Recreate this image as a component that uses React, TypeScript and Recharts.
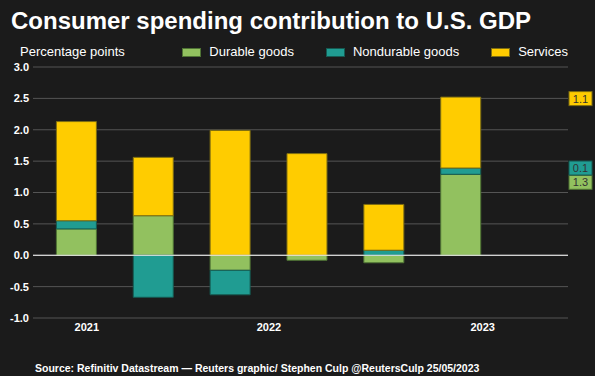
import { BarChart, Bar, XAxis, YAxis, CartesianGrid, ReferenceLine, LabelList } from "recharts"

const quarters = ["Q4 2021", "Q1 2022", "Q2 2022", "Q3 2022", "Q4 2022", "Q1 2023"]
const durableGoods = [0.42, 0.63, -0.24, -0.08, -0.12, 1.29]
const nondurableGoods = [0.13, -0.67, -0.39, 0.0, 0.08, 0.1]
const services = [1.58, 0.93, 1.99, 1.62, 0.73, 1.13]

// year labels sit on the quarter axis, not on the bars
const yearTicks = [0.13, 2.5, 5.28]
const yearLabels = ["2021", "2022", "2023"]
const yTicks = [-1, -0.5, 0, 0.5, 1, 1.5, 2, 2.5, 3]

const WIDTH = 595
const HEIGHT = 376
const MARGIN = { top: 67, right: 27, bottom: 28, left: 0 }
const PLOT_RIGHT = WIDTH - MARGIN.right

const BG = "#1b1b1b"
const FONT = "'Liberation Sans', Arial, sans-serif"

const series = [
  { key: "durable", name: "Durable goods", values: durableGoods, fill: "#92c15f", stroke: "#4f7334", nudge: 8 },
  { key: "nondurable", name: "Nondurable goods", values: nondurableGoods, fill: "#209c92", stroke: "#155a52", nudge: 0 },
  { key: "services", name: "Services", values: services, fill: "#ffcc00", stroke: "#7d6d12", nudge: 1.5 },
]

const data = quarters.map((q, i) => ({
  x: i,
  quarter: q,
  durable: durableGoods[i],
  nondurable: nondurableGoods[i],
  services: services[i],
}))

// boxed value of the latest quarter, pinned to the right of the plot
const endLabel = (values: number[], fill: string, stroke: string, nudge: number) => (props: any) => {
  const { y, value } = props
  if (Number(value) !== values[values.length - 1]) return null
  const cy = Number(y) + nudge
  return (
    <g>
      <rect x={PLOT_RIGHT + 1} y={cy - 7} width={23} height={14} fill={fill} stroke={stroke} />
      <text
        x={PLOT_RIGHT + 12.5}
        y={cy}
        dy="0.36em"
        textAnchor="middle"
        fontSize={11}
        fill="#333"
        fontFamily={FONT}
      >
        {Number(value).toFixed(1)}
      </text>
    </g>
  )
}

export default function App() {
  return (
    <div
      style={{
        position: "fixed",
        left: 0,
        top: 0,
        width: WIDTH,
        height: HEIGHT,
        background: BG,
        fontFamily: FONT,
        color: "#fff",
        overflow: "hidden",
      }}
    >
      <div style={{ position: "absolute", left: 11, top: 6, fontSize: 24, fontWeight: "bold", lineHeight: "30px" }}>
        Consumer spending contribution to U.S. GDP
      </div>
      <div style={{ position: "absolute", left: 20, top: 44, fontSize: 13, lineHeight: "16px" }}>
        Percentage points
      </div>
      <div
        style={{
          position: "absolute",
          right: WIDTH - PLOT_RIGHT,
          top: 44,
          display: "flex",
          gap: 32,
          fontSize: 13,
          lineHeight: "16px",
        }}
      >
        {series.map((s) => (
          <div key={s.key} style={{ display: "flex", alignItems: "center" }}>
            <span
              style={{
                display: "inline-block",
                width: 17,
                height: 7,
                background: s.fill,
                border: `1px solid ${s.stroke}`,
                marginRight: 8,
              }}
            />
            {s.name}
          </div>
        ))}
      </div>

      <BarChart width={WIDTH} height={HEIGHT} data={data} stackOffset="sign" margin={MARGIN}>
        <CartesianGrid vertical={false} stroke="#555" />
        <XAxis
          type="number"
          dataKey="x"
          domain={[-0.57, 6.39]}
          ticks={yearTicks}
          interval={0}
          tickFormatter={(v: number) => yearLabels[yearTicks.indexOf(v)]}
          axisLine={false}
          tickLine={false}
          tickSize={0}
          tickMargin={5}
          height={30}
          tick={{ fill: "#fff", fontSize: 11, fontWeight: "bold", fontFamily: FONT }}
        />
        <YAxis
          domain={[-1, 3]}
          ticks={yTicks}
          interval={0}
          tickFormatter={(v: number) => v.toFixed(1)}
          axisLine={false}
          tickLine={false}
          tickSize={0}
          tickMargin={4}
          width={33}
          tick={{ fill: "#fff", fontSize: 11, fontWeight: "bold", fontFamily: FONT }}
        />
        <ReferenceLine y={0} stroke="#fff" strokeWidth={1} />
        {series.map((s) => (
          <Bar
            key={s.key}
            dataKey={s.key}
            name={s.name}
            stackId="pce"
            fill={s.fill}
            stroke={s.stroke}
            strokeWidth={1}
            barSize={40}
            isAnimationActive={false}
          >
            <LabelList dataKey={s.key} content={endLabel(s.values, s.fill, s.stroke, s.nudge)} />
          </Bar>
        ))}
      </BarChart>

      <div style={{ position: "absolute", left: 35, top: 361, fontSize: 10.5, fontWeight: "bold", lineHeight: "14px" }}>
        Source: Refinitiv Datastream — Reuters graphic/ Stephen Culp @ReutersCulp 25/05/2023
      </div>
    </div>
  )
}
